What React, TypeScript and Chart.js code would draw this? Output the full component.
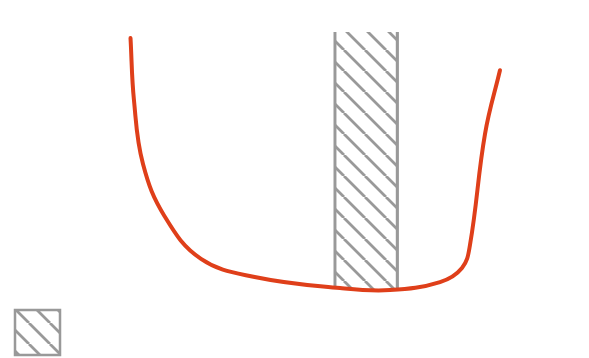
import React, { useEffect, useRef } from "react";
import { Chart, registerables } from "chart.js";

Chart.register(...registerables);

// Curve samples (x position, value)
const curveX = [21.38, 21.99, 23.56, 27.35, 33.68, 43.05, 57.94, 66.67, 75.39, 79.23, 80.63, 83.25, 85.86];
const curveY = [97.65, 73.33, 48.63, 28.24, 11.76, 4.71, 0.39, -0.39, 2.75, 8.24, 17.25, 60.39, 85.1];

// Hatched band
const bandX = [62.5];
const bandY = [100];

const LINE_COLOR = "#DF3F1A";
const HATCH_COLOR = "#999999";

function makePattern(): CanvasPattern | string {
  const s = 21;
  const c = document.createElement("canvas");
  c.width = s;
  c.height = s;
  const ctx = c.getContext("2d");
  if (!ctx) return HATCH_COLOR;
  ctx.strokeStyle = HATCH_COLOR;
  ctx.lineWidth = 2.8;
  ctx.beginPath();
  for (const k of [-s, 0, s]) {
    ctx.moveTo(k, 0);
    ctx.lineTo(k + s, s);
  }
  ctx.stroke();
  return ctx.createPattern(c, "repeat") || HATCH_COLOR;
}

export default function App() {
  const ref = useRef<HTMLCanvasElement | null>(null);
  useEffect(() => {
    if (!ref.current) return;
    const pattern = makePattern();
    const chart = new Chart(ref.current, {
      type: "bar",
      data: {
        datasets: [
          {
            type: "line",
            label: "curve",
            data: curveX.map((x, i) => ({ x, y: curveY[i] })),
            borderColor: LINE_COLOR,
            borderWidth: 4,
            borderCapStyle: "round",
            borderJoinStyle: "round",
            pointRadius: 0,
            tension: 0.4,
            fill: false,
            order: 0,
          } as any,
          {
            type: "bar",
            label: "",
            data: bandX.map((x, i) => ({ x, y: bandY[i] })),
            backgroundColor: pattern as any,
            borderColor: HATCH_COLOR,
            borderWidth: { left: 2.5, right: 2.5, top: 0, bottom: 0 } as any,
            barThickness: 65,
            order: 1,
          } as any,
        ],
      },
      options: {
        animation: false,
        responsive: true,
        maintainAspectRatio: false,
        layout: { padding: { top: 24, left: 0, right: 0, bottom: 0 } },
        scales: {
          x: { type: "linear", min: 0, max: 100, display: false, offset: false },
          y: { type: "linear", min: -5.4, max: 100, display: false },
        },
        plugins: {
          tooltip: { enabled: false },
          legend: {
            position: "bottom",
            align: "start",
            labels: {
              boxWidth: 45,
              boxHeight: 45,
              padding: 7,
              generateLabels: () => [
                {
                  text: "",
                  fillStyle: pattern as any,
                  strokeStyle: HATCH_COLOR,
                  lineWidth: 2.5,
                  hidden: false,
                  datasetIndex: 1,
                } as any,
              ],
            },
          },
        },
      },
    });
    return () => chart.destroy();
  }, []);
  return (
    <div style={{ position: "relative", height: 357 }}>
      <canvas ref={ref} />
    </div>
  );
}
